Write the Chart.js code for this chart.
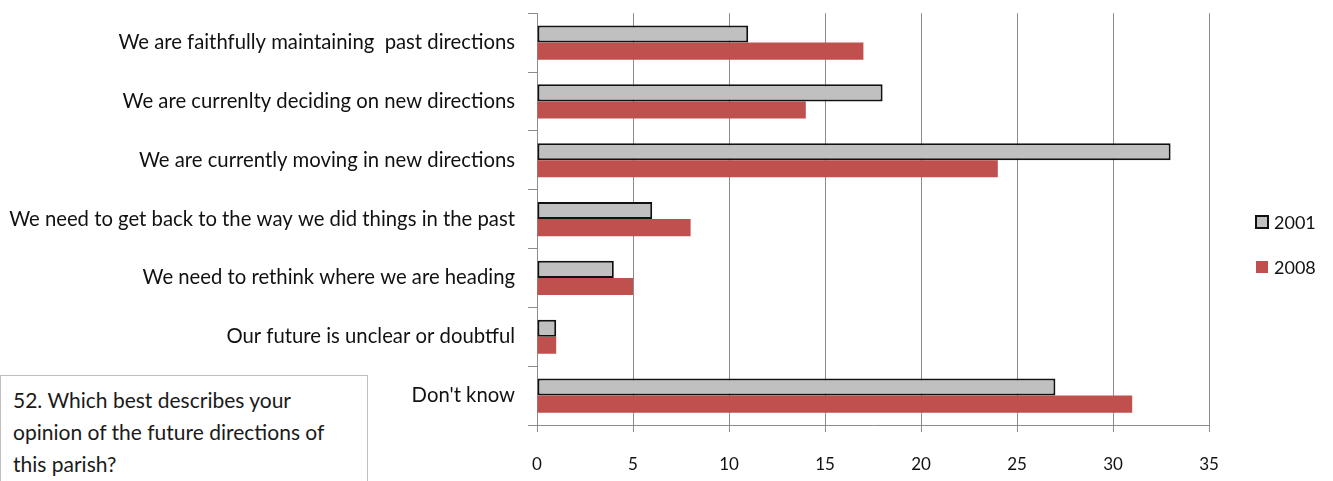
<!DOCTYPE html>
<html>
<head>
<meta charset="utf-8">
<script src="https://cdn.jsdelivr.net/npm/chart.js@4.4.1/dist/chart.umd.min.js"></script>
<style>
  html, body { margin: 0; padding: 0; background: #fff; overflow: hidden; }
  #wrap { position: relative; width: 1333px; height: 481px; overflow: hidden; }
  #chart { position: absolute; left: 0; top: -12px; }
  #note {
    position: absolute; left: 0; top: 375px; width: 368px; height: 120px;
    border: 1px solid #bfbfbf; background: #fff;
    font-family: Lato, "Open Sans", sans-serif; font-size: 21px; line-height: 32px;
    color: #1a1a1a; padding: 8px 0 0 12px; box-sizing: border-box; white-space: nowrap;
  }
</style>
</head>
<body>
<div id="wrap">
  <canvas id="chart" width="1333" height="493"></canvas>
  <div id="note">52. Which best describes your<br>opinion of the future directions of<br>this parish?</div>
</div>
<script>
const categories = [
  "We are faithfully maintaining  past directions",
  "We are currenlty deciding on new directions",
  "We are currently moving in new directions",
  "We need to get back to the way we did things in the past",
  "We need to rethink where we are heading",
  "Our future is unclear or doubtful",
  "Don't know"
];
const values2001 = [11, 18, 33, 6, 4, 1, 27];
const values2008 = [17, 14, 24, 8, 5, 1, 31];
const seriesNames = ["2001", "2008"];
const xTicks = [0, 5, 10, 15, 20, 25, 30, 35];

const FONT = "Lato, 'Open Sans', sans-serif";

// legend drawn by hand so it sits where Excel put it (canvas is shifted up 12px)
const sideLegend = {
  id: "sideLegend",
  afterDraw(chart) {
    const ctx = chart.ctx;
    const rows = [234, 279];
    chart.data.datasets.forEach((ds, i) => {
      const y = rows[i];
      ctx.save();
      ctx.fillStyle = ds.backgroundColor;
      ctx.fillRect(1256, y - 6, 12, 12);
      if (ds.borderWidth) {
        ctx.strokeStyle = ds.borderColor;
        ctx.lineWidth = 2;
        ctx.strokeRect(1256, y - 6, 12, 12);
      }
      ctx.fillStyle = "#111";
      ctx.font = "18px " + FONT;
      ctx.textBaseline = "middle";
      ctx.fillText(ds.label, 1274, y + 1);
      ctx.restore();
    });
  }
};

new Chart(document.getElementById("chart"), {
  type: "bar",
  data: {
    labels: categories,
    datasets: [
      {
        label: seriesNames[0],
        data: values2001,
        backgroundColor: "#c0c0c0",
        borderColor: "#111",
        borderWidth: 2,
        borderSkipped: false
      },
      {
        label: seriesNames[1],
        data: values2008,
        backgroundColor: "#c0504d",
        borderWidth: 0
      }
    ]
  },
  options: {
    indexAxis: "y",
    responsive: false,
    animation: false,
    layout: { padding: { top: 2, right: 124, left: 0, bottom: 0 } },
    datasets: { bar: { categoryPercentage: 0.58, barPercentage: 1 } },
    plugins: { legend: { display: false }, tooltip: { enabled: false } },
    scales: {
      x: {
        min: 0,
        max: 35,
        afterBuildTicks: (scale) => { scale.ticks = xTicks.map(v => ({ value: v })); },
        afterFit: (scale) => { scale.height = 56; },
        grid: { color: "#8c8c8c", lineWidth: 1, tickLength: 7, drawTicks: true },
        border: { color: "#8c8c8c" },
        ticks: { color: "#111", font: { family: FONT, size: 17 }, padding: 22 }
      },
      y: {
        afterFit: (scale) => { scale.width = 537; },
        grid: { drawOnChartArea: false, color: "#8c8c8c", tickLength: 9, offset: true },
        border: { color: "#8c8c8c" },
        ticks: { color: "#111", font: { family: FONT, size: 20.3 }, padding: 13, autoSkip: false }
      }
    }
  },
  plugins: [sideLegend]
});
</script>
</body>
</html>
